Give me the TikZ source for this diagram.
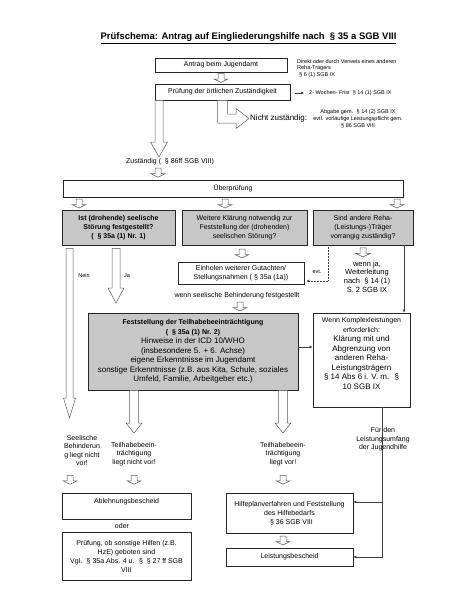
\documentclass[tikz,border=0pt]{standalone}
\usepackage{fontspec}
\setmainfont{Liberation Sans}
\usetikzlibrary{arrows.meta,calc}

% hollow block arrow: start, tip, stem half width, head half width, head length
\newcommand\blockarr[5]{%
  \draw[hollow] let \p1=#1, \p2=#2 in
    (\x1-#3,\y1) -- (\x1-#3,\y2+#5) -- (\x1-#4,\y2+#5) -- (\x1,\y2)
    -- (\x1+#4,\y2+#5) -- (\x1+#3,\y2+#5) -- (\x1+#3,\y1) -- cycle;}
% small hollow arrow, centred in the gap between two nodes
\newcommand\smallarr[2]{%
  \draw[hollow] let \p1=#1, \p2=#2, \p3=($(\p1)!0.5!(\p2)$) in
    (\x1-3pt,\y3+4.5pt) -- (\x1-3pt,\y3-1pt) -- (\x1-7pt,\y3-1pt) -- (\x1,\y3-4.5pt)
    -- (\x1+7pt,\y3-1pt) -- (\x1+3pt,\y3-1pt) -- (\x1+3pt,\y3+4.5pt) -- cycle;}

\begin{document}
\begin{tikzpicture}[
  x=1pt, y=-1pt,
  box/.style={draw=black!85,line width=0.9pt,align=center,inner sep=0pt,font=\fontsize{7}{9}\selectfont},
  qbox/.style={box,fill=black!22},
  sz/.style 2 args={minimum width=#1pt,minimum height=#2pt},
  note/.style={align=left,inner sep=0pt,font=\fontsize{5.5}{6.8}\selectfont},
  lbl/.style={align=center,inner sep=1pt,font=\fontsize{7}{8.5}\selectfont},
  hollow/.style={draw=black!65,fill=white,line width=0.5pt},
  arr/.style={-{Latex[length=3pt,width=3pt]},draw=black!75,line width=0.5pt},
  dotarr/.style={arr,densely dotted}
]
\useasboundingbox (0,0) rectangle (474,600);

\node[font=\fontsize{9.5}{11}\selectfont\bfseries] (title) at (248.5,38)
  {\underline{Prüfschema: Antrag auf Eingliederungshilfe nach \ § 35 a SGB VIII}};

% Antrag und Zustaendigkeit
\node[box,sz={132}{14}] (antrag) at (221,65) {Antrag beim Jugendamt};
\node[note,anchor=north west] (direkt) at (297,59) {Direkt oder durch Verweis eines anderen\\Reha-Trägers\\\hspace*{2pt}§ 6 (1) SGB IX};
\node[box,sz={135}{16}] (pruef) at (222.5,92) {Prüfung der örtlichen Zuständigkeit};
\node[note,anchor=west] (frist) at (309,93) {2- Wochen- Frist \ § 14 (1) SGB IX};
\coordinate (fristtail) at (295,93);
\draw[arr,shorten >=5pt] (fristtail) -- (frist.west);
\smallarr{(antrag.south)}{(pruef.north)}

\node[anchor=west,inner sep=1pt,font=\fontsize{8}{9}\selectfont] (nicht) at (249,118.5) {Nicht zuständig:};
\node[note,align=center] (abgabe) at (358,118.5) {Abgabe gem. \ § 14 (2) SGB IX\\evtl. vorläufige Leistungspflicht gem.\\§ 86 SGB VIII};
\draw[hollow] let \p1=(pruef.south), \p2=(nicht.west) in
  (\x1-5pt,\y1) -- (\x1-5pt,\y2-4.5pt) -- (\x2-13pt,\y2-4.5pt) -- (\x2-13pt,\y2-10pt) -- (\x2,\y2)
  -- (\x2-13pt,\y2+10pt) -- (\x2-13pt,\y2+4.5pt) -- (\x1+5pt,\y2+4.5pt) -- (\x1+5pt,\y1) -- cycle;

\node[lbl,anchor=north] (zust) at (170,157) {Zuständig ( \ § 86ff SGB VIII)};
\blockarr{([xshift=-63.5pt]pruef.south)}{(zust.north)}{4pt}{8.5pt}{15pt}

% Ueberpruefung
\node[box,sz={340}{17}] (ueber) at (233,188.5) {Überprüfung};
\smallarr{([xshift=-12pt]zust.south)}{(ueber.north)}

\node[qbox,sz={113}{35},font=\fontsize{7}{9}\selectfont\bfseries] (q1) at (118.5,227.5)
  {Ist (drohende) seelische\\Störung festgestellt?\\( \ § 35a (1) Nr. 1)};
\node[qbox,sz={125}{35}] (q2) at (244.5,227.5) {Weitere Klärung notwendig zur\\Feststellung der (drohenden)\\seelischen Störung?};
\node[qbox,sz={100}{35}] (q3) at (363,227.5) {Sind andere Reha-\\(Leistungs-)Träger\\vorrangig zuständig?};
\smallarr{([xshift=-154pt]ueber.south)}{(q1.north)}
\smallarr{([xshift=-8pt]ueber.south)}{(q2.north)}
\smallarr{([xshift=164pt]ueber.south)}{(q3.north)}

% Nein / Ja
\coordinate (neintip) at (69.5,418);
\coordinate (jatip) at (116,303);
\blockarr{([xshift=-49pt,yshift=-3pt]q1.south)}{(neintip)}{3.5pt}{6pt}{20pt}
\blockarr{([xshift=-2.5pt,yshift=-3pt]q1.south)}{(jatip)}{4pt}{8pt}{15pt}
\node[note] (nein) at (84,276) {Nein};
\node[note] (ja) at (127,276) {Ja};

% weitere Klaerung
\node[box,sz={126}{22}] (einh) at (241,273) {Einholen weiterer Gutachten/\\Stellungsnahmen ( § 35a (1a))};
\node[lbl] (wsb) at (237,296) {wenn seelische Behinderung festgestellt};
\smallarr{([xshift=-2.5pt]q2.south)}{(einh.north)}

% andere Traeger
\node[lbl,font=\fontsize{7.5}{8.7}\selectfont] (wja) at (367,276.5) {wenn ja,\\Weiterleitung\\nach \ § 14 (1)\\S. 2 SGB IX};
\node[note] (evt) at (317,272) {evt.};
\smallarr{(q3.south)}{(wja.north)}
\draw[dotarr,shorten >=2pt] ([xshift=-35pt]q3.south) |- ([yshift=-8pt]einh.east);

% Teilhabe
\node[qbox,sz={210}{77},font=\fontsize{8}{9.5}\selectfont] (fest) at (193,351.5)
  {{\fontsize{7}{8}\selectfont\bfseries Feststellung der Teilhabebeeinträchtigung}\\
   {\fontsize{7}{8}\selectfont\bfseries ( \ § 35a (1) Nr. 2)}\\
   Hinweise in der ICD 10/WHO\\(insbesondere 5. + 6. Achse)\\eigene Erkenntnisse im Jugendamt\\
   sonstige Erkenntnisse (z.B. aus Kita, Schule, soziales\\Umfeld, Familie, Arbeitgeber etc.)};
\smallarr{([xshift=3pt]wsb.south)}{(fest.north)}

\node[box,sz={97}{94},font=\fontsize{8}{9.5}\selectfont] (komp) at (361.5,360)
  {{\fontsize{7}{8}\selectfont Wenn Komplexleistungen}\\{\fontsize{7}{8}\selectfont erforderlich:}\\
   Klärung mit und\\Abgrenzung von\\anderen Reha-\\Leistungsträgern\\§ 14 Abs 6 i. V. m. \ §\\10 SGB IX\\[4pt]};
\draw[arr] ([xshift=41pt]q3.south) coordinate (q3r) -- (q3r |- komp.north);
\draw[arr] ([yshift=4.5pt]fest.east) coordinate (fe) -- (fe -| komp.west);

% Ergebnisse
\node[lbl] (seel) at (82,450.5) {Seelische\\Behinderun\\g liegt nicht\\vor!};
\node[lbl] (tb1) at (134,454) {Teilhabebeein-\\trächtigung\\liegt nicht vor!};
\node[lbl] (tb2) at (283,454) {Teilhabebeein-\\trächtigung\\liegt vor!};
\blockarr{([xshift=-59pt]fest.south)}{([yshift=8pt]tb1.north)}{4.5pt}{8pt}{10pt}
\blockarr{([xshift=90pt]fest.south)}{([yshift=8pt]tb2.north)}{4.5pt}{8pt}{10pt}

\node[box,minimum width=129pt,inner ysep=1.5pt,text height=8.5pt,text depth=14.5pt] (abl) at (126.5,506) {Ablehnungsbescheid};
\node[lbl] (oder) at (122,525.5) {oder};
\node[box,sz={129}{48}] (pr) at (126.5,556) {Prüfung, ob sonstige Hilfen (z.B.\\HzE) geboten sind\\Vgl. \ § 35a Abs. 4 u. \ § \ § 27 ff SGB\\VIII};
\node[box,sz={127}{40}] (hilfe) at (289.5,513) {Hilfeplanverfahren und Feststellung\\des Hilfebedarfs\\\ \ § 36 SGB VIII};
\node[box,sz={127}{18}] (leist) at (289.5,557) {Leistungsbescheid};
\smallarr{([xshift=-12pt]seel.south)}{(abl.north)}
\smallarr{(tb1.south)}{(abl.north)}
\smallarr{(tb2.south)}{(hilfe.north)}
\smallarr{([xshift=-6.5pt]hilfe.south)}{(leist.north)}

% Leistungsumfang
\coordinate (hh) at ([yshift=11pt]hilfe.east);
\draw[arr] ([xshift=20.5pt]komp.south) coordinate (kb) |- (leist.east);
\draw[arr] (kb |- hh) -- (hh);
\node[lbl] (fuer) at (383,439.5) {Für den\\Leistungsumfang\\der Jugendhilfe};
\end{tikzpicture}
\end{document}
